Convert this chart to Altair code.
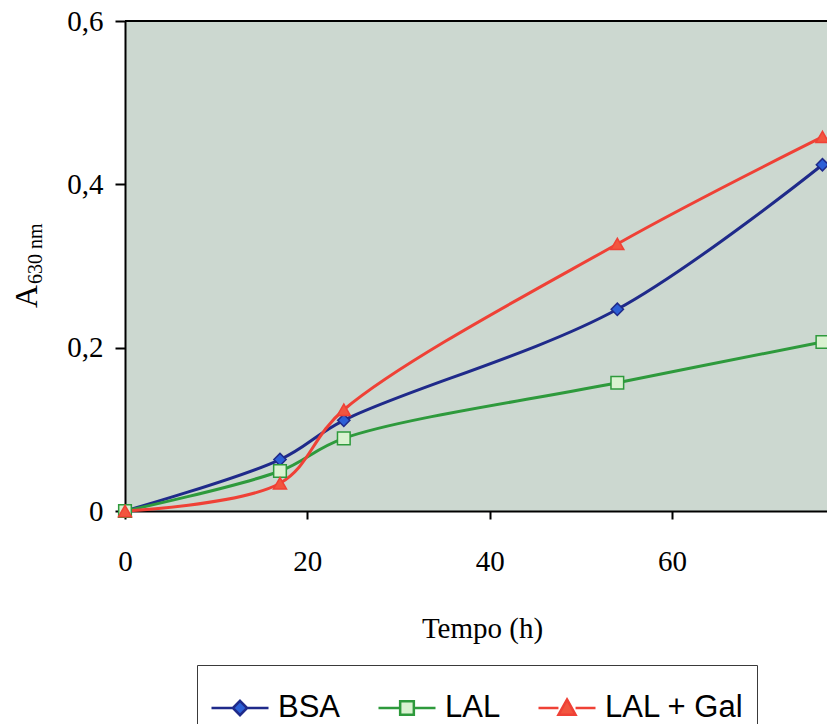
import altair as alt
import pandas as pd

# ---- data ----
tempo = [0, 17, 24, 54, 76.5]
bsa = [0, 0.063, 0.111, 0.247, 0.424]
lal = [0, 0.049, 0.089, 0.157, 0.207]
lal_gal = [0, 0.034, 0.124, 0.327, 0.458]
series = ["BSA", "LAL", "LAL + Gal"]
x_ticks = [0, 20, 40, 60]
y_ticks = [0, 0.2, 0.4, 0.6]

# ---- styles ----
line_colors = ["#1f2a8a", "#2e9a3c", "#ef4136"]
fill_colors = ["#2c5fd6", "#d9f2d0", "#f2553f"]
shapes = ["diamond", "square", "triangle-up"]
marker_sizes = [150, 170, 250]
legend_paths = [
    "M-1,0L-0.25,0M0.25,0L1,0M0,-0.25L0.25,0L0,0.25L-0.25,0Z",
    "M-1,0L-0.24,0M0.24,0L1,0M-0.24,-0.24L0.24,-0.24L0.24,0.24L-0.24,0.24Z",
    "M-1,0L-0.3,0M0.3,0L1,0M0,-0.3L0.3,0.24L-0.3,0.24Z",
]

W = 702
H = 490

rows = []
for name, vals in zip(series, [bsa, lal, lal_gal]):
    for t, v in zip(tempo, vals):
        rows.append({"serie": name, "tempo": t, "abs": v})
df = pd.DataFrame(rows)

x_enc = alt.X(
    "tempo:Q",
    scale=alt.Scale(domain=[0, 77], nice=False),
    axis=alt.Axis(
        values=x_ticks, format="d", title="Tempo (h)", labelFlush=False,
        titleX=357, titleY=117, titleBaseline="middle", titleAlign="center",
        labelPadding=28, tickSize=8,
    ),
)
y_enc = alt.Y(
    "abs:Q",
    scale=alt.Scale(domain=[0, 0.6], nice=False),
    axis=alt.Axis(
        values=y_ticks, title=None, tickSize=10, labelPadding=12, labelFlush=False,
        labelExpr="datum.value == 0 ? '0' : replace(format(datum.value, '.1f'), '.', ',')",
    ),
)

base = alt.Chart(df).encode(x=x_enc, y=y_enc)

lines = base.mark_line(strokeWidth=3, interpolate="catmull-rom").encode(
    stroke=alt.Stroke("serie:N", scale=alt.Scale(domain=series, range=line_colors), legend=None)
)

points = base.mark_point(filled=True, opacity=1, strokeWidth=1.5).encode(
    shape=alt.Shape("serie:N", scale=alt.Scale(domain=series, range=shapes), legend=None),
    fill=alt.Fill("serie:N", scale=alt.Scale(domain=series, range=fill_colors), legend=None),
    stroke=alt.Stroke("serie:N", scale=alt.Scale(domain=series, range=line_colors), legend=None),
    size=alt.Size("serie:O", scale=alt.Scale(domain=series, range=marker_sizes), legend=None),
)

legend_layer = base.mark_point(filled=True, opacity=1, strokeWidth=2.5).encode(
    shape=alt.Shape("serie:N", scale=alt.Scale(domain=series, range=legend_paths), legend=alt.Legend(title=None)),
    fill=alt.Fill("serie:N", scale=alt.Scale(domain=series, range=fill_colors), legend=alt.Legend(title=None)),
    stroke=alt.Stroke("serie:N", scale=alt.Scale(domain=series, range=line_colors), legend=alt.Legend(title=None)),
).transform_filter("datum.abs > 10")

one = alt.Data(values=[{}])
top_border = alt.Chart(one).mark_rule(color="black", strokeWidth=2).encode(
    x=alt.value(0), x2=alt.value(W), y=alt.value(0)
)
title_a = alt.Chart(one).mark_text(
    text="A", angle=270, font="Liberation Serif", fontSize=32,
    align="left", baseline="alphabetic", color="black",
).encode(x=alt.value(-88), y=alt.value(287))
title_sub = alt.Chart(one).mark_text(
    text="630 nm", angle=270, font="Liberation Serif", fontSize=20,
    align="left", baseline="alphabetic", color="black",
).encode(x=alt.value(-83), y=alt.value(263))

chart = (
    alt.layer(lines, points, legend_layer, top_border, title_a, title_sub)
    .resolve_scale(shape="independent", fill="independent", stroke="independent")
    .properties(
        width=W, height=H,
        autosize=alt.AutoSizeParams(type="none"),
        padding={"left": 125, "top": 21, "right": 0, "bottom": 213},
        background="white",
    )
    .configure_view(fill="#ccd8d0", stroke="transparent")
    .configure_axis(
        domainColor="black", domainWidth=2, tickColor="black", tickWidth=2,
        grid=False, labelFont="Liberation Serif", labelFontSize=29, labelColor="black",
        titleFont="Liberation Serif", titleFontSize=29, titleColor="black",
        titleFontWeight="normal",
    )
    .configure_legend(
        orient="none", legendX=72, legendY=644, direction="horizontal",
        fillColor="white", strokeColor="#3a3a3a", padding=13,
        labelFont="Liberation Sans", labelFontSize=31, labelColor="black",
        labelOffset=8, columnPadding=32, symbolSize=3249, symbolStrokeWidth=2.5,
        labelLimit=400,
    )
)

chart.save("out.html", embed_options={"renderer": "svg", "actions": False})
